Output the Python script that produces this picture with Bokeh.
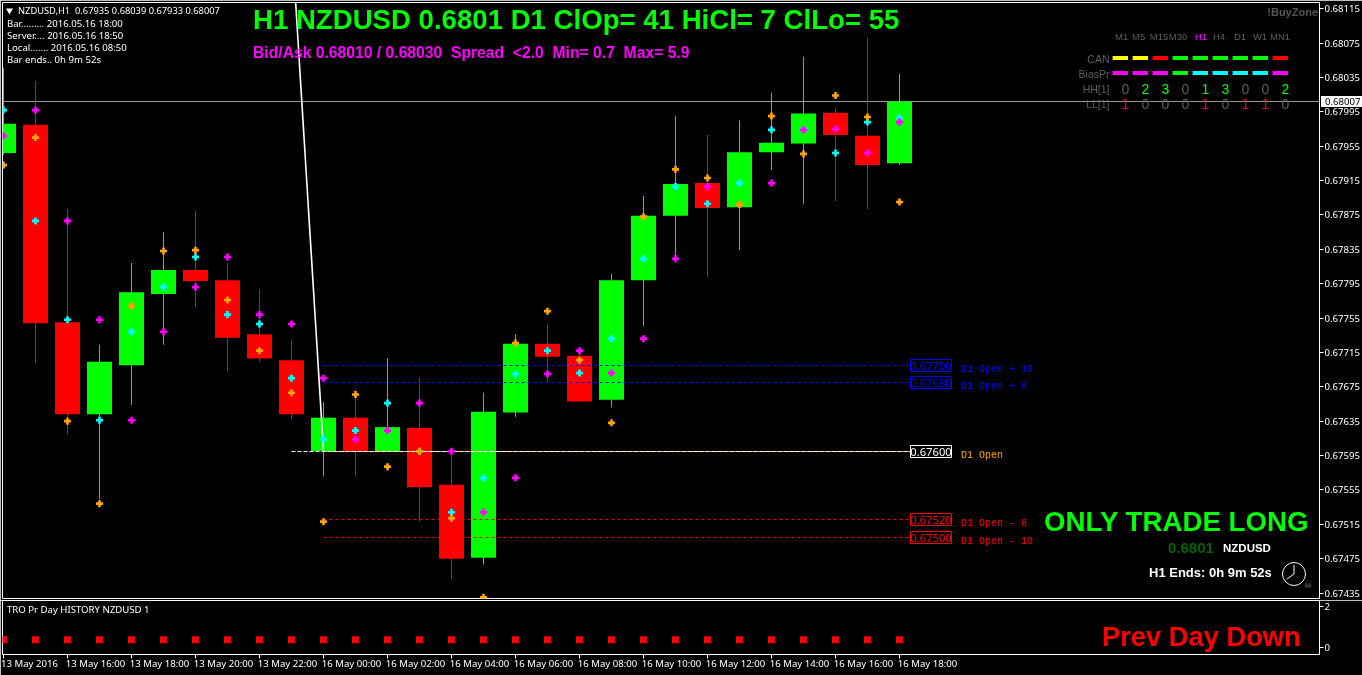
from bokeh.plotting import figure
from bokeh.layouts import column
from bokeh.models import Range1d, FixedTicker, PrintfTickFormatter, LinearAxis, Div
from bokeh.core.properties import value
from bokeh.embed import file_html
from bokeh.resources import INLINE
from math import floor

bar_open = [0.67947,0.67980,0.67750,0.67643,0.67700,0.67783,0.67811,0.67799,0.67736,0.67706,0.67600,0.67639,0.67600,0.67627,0.67561,0.67476,0.67645,0.67725,0.67711,0.67660,0.67799,0.67874,0.67912,0.67884,0.67948,0.67958,0.67994,0.67967,0.67935]
bar_high = [0.68046,0.68031,0.67882,0.67724,0.67819,0.67855,0.67880,0.67819,0.67788,0.67729,0.67657,0.67672,0.67708,0.67685,0.67600,0.67668,0.67736,0.67748,0.67721,0.67806,0.67897,0.67990,0.67968,0.67985,0.68017,0.68059,0.67999,0.68081,0.68039]
bar_low = [0.67945,0.67703,0.67620,0.67544,0.67654,0.67724,0.67768,0.67693,0.67704,0.67638,0.67571,0.67571,0.67600,0.67518,0.67451,0.67468,0.67640,0.67681,0.67658,0.67651,0.67746,0.67824,0.67803,0.67834,0.67927,0.67888,0.67891,0.67882,0.67933]
bar_close = [0.67981,0.67749,0.67643,0.67704,0.67785,0.67811,0.67798,0.67732,0.67708,0.67643,0.67639,0.67600,0.67628,0.67558,0.67475,0.67646,0.67725,0.67710,0.67658,0.67799,0.67874,0.67911,0.67883,0.67948,0.67959,0.67993,0.67968,0.67933,0.68007]
cyan_marks = [0.67997,0.67868,0.67753,0.67636,0.67739,0.67791,0.67826,0.67759,0.67748,0.67685,0.67614,0.67624,0.67656,0.67600,0.67529,0.67569,0.67690,0.67717,0.67691,0.67731,0.67824,0.67908,0.67888,0.67912,0.67974,0.67974,0.67947,0.67983,0.67988]
magenta_marks = [0.67967,0.67997,0.67868,0.67753,0.67636,0.67739,0.67791,0.67826,0.67759,0.67748,0.67685,0.67614,0.67624,0.67656,0.67600,0.67529,0.67569,0.67690,0.67717,0.67691,0.67731,0.67824,0.67908,0.67887,0.67912,0.67974,0.67975,0.67947,0.67983]
orange_marks = [0.67933,0.67965,0.67635,0.67539,0.67769,0.67833,0.67834,0.67776,0.67717,0.67668,0.67518,0.67666,0.67582,0.67600,0.67522,0.67430,0.67726,0.67763,0.67706,0.67633,0.67873,0.67928,0.67918,0.67887,0.67990,0.67946,0.68014,0.67989,0.67890]
sub_values = [0.4] * 29
price_ticks = [0.68115,0.68075,0.68035,0.67995,0.67955,0.67915,0.67875,0.67835,0.67795,0.67755,0.67715,0.67675,0.67635,0.67595,0.67555,0.67515,0.67475,0.67435]
time_labels = ["13 May 2016","13 May 16:00","13 May 18:00","13 May 20:00","13 May 22:00","16 May 00:00","16 May 02:00","16 May 04:00","16 May 06:00","16 May 08:00","16 May 10:00","16 May 12:00","16 May 14:00","16 May 16:00","16 May 18:00"]
level_prices = [0.67700,0.67680,0.67600,0.67520,0.67500]
level_colors = ["#0000ff","#0000ff","#ffffff","#ff0000","#ff0000"]
level_names = ["D1 Open + 10","D1 Open + 8","D1 Open","D1 Open - 8","D1 Open - 10"]
level_name_colors = ["#0000ff","#0000ff","#ffa500","#ff0000","#ff0000"]
current_price = 0.68007
tf_names = ["M1","M5","M15","M30","H1","H4","D1","W1","MN1"]
can_colors = ["#ffff00","#ffff00","#ff0000","#00ff00","#00ff00","#00ff00","#00ff00","#00ff00","#ff0000"]
bias_colors = ["#ff00ff","#ff00ff","#ff00ff","#00ff00","#00ffff","#00ffff","#00ffff","#00ffff","#ff00ff"]
hh_values = [0,2,3,0,1,3,0,0,2]
ll_values = [1,0,0,0,1,0,1,1,0]

W, MAIN_H, SUB_H = 1362, 600, 75
GREEN, RED = "#00ff00", "#ff0000"
SANS, MONO = "Liberation Sans", "Liberation Mono"
UI = "Noto Sans"
Y_TOP, Y_BOT = 0.681222, 0.674286

idx = list(range(len(bar_open)))
x_range = Range1d(-1 / 32, (1319 - 3) / 32)
up = [c >= o for o, c in zip(bar_open, bar_close)]
colors = [GREEN if u else RED for u in up]


def style_axis(a):
    a.axis_line_color = None
    a.major_tick_line_color = "white"
    a.major_tick_in = 0
    a.major_tick_out = 4
    a.minor_tick_line_color = None
    a.major_label_text_color = "white"
    a.major_label_text_font = UI
    a.major_label_text_font_size = "9.6px"
    a.major_label_standoff = 1


p = figure(width=W, height=MAIN_H, x_range=x_range, y_range=Range1d(Y_BOT, Y_TOP),
           output_backend="svg", toolbar_location=None, background_fill_color="black",
           border_fill_color="black", min_border_left=2, min_border_right=43, min_border_top=2,
           min_border_bottom=2, outline_line_color="white", outline_line_width=1,
           x_axis_location=None, y_axis_location="right")
p.grid.visible = False
p.extra_x_ranges["px"] = Range1d(2.5, 1319.5)
p.extra_y_ranges["px"] = Range1d(598.5, 2.5)

ax = p.yaxis[0]
ax.ticker = FixedTicker(ticks=price_ticks)
ax.formatter = PrintfTickFormatter(format="%.5f")
style_axis(ax)


def px_text(fig, x, y, s, size, color, font=SANS, style="normal", align="left"):
    return fig.text(x=[x], y=[y], text=[s], text_font=value(font), text_font_size=value(f"{size}px"),
                    text_font_style=style, text_color=color, text_align=align, text_baseline="middle",
                    x_range_name="px", y_range_name="px")


def row_of(price):
    return floor(2.5 + (Y_TOP - price) / (Y_TOP - Y_BOT) * 596) + 0.5


p.line([x_range.start, x_range.end], [current_price, current_price], line_color="#9a9a9a", line_width=1)
p.segment(idx, bar_high, idx, bar_low, line_color=colors, line_width=1)
p.vbar(x=idx, width=25 / 32, top=[max(a, b) for a, b in zip(bar_open, bar_close)],
       bottom=[min(a, b) for a, b in zip(bar_open, bar_close)], fill_color=colors, line_color=None)

p.line([323.5, 910.5], [row_of(level_prices[2])] * 2, line_color="#ffa500", line_width=1,
       x_range_name="px", y_range_name="px")
for price, col in zip(level_prices, level_colors):
    is_open = col == "#ffffff"
    p.line([291.5 if is_open else 323.5, 910.5], [row_of(price)] * 2, line_color=col, line_width=1,
           line_dash="4 2" if is_open else "3 3", x_range_name="px", y_range_name="px")

p.line([(295.6 - 3.5) / 32, 10], [0.68123, level_prices[2]], line_color="white", line_width=1.6)

p.scatter(idx, cyan_marks, marker="plus", size=7, fill_color="#00ffff", line_color=None)
p.scatter(idx, magenta_marks, marker="plus", size=7, fill_color="#ff00ff", line_color=None)
p.scatter(idx, orange_marks, marker="plus", size=7, fill_color="#ffa500", line_color=None)

for price, col, name, ncol in zip(level_prices, level_colors, level_names, level_name_colors):
    sy = row_of(price)
    p.quad(left=[910.5], right=[951.5], top=[sy - 6], bottom=[sy + 6], fill_color="black", line_color=col,
           x_range_name="px", y_range_name="px")
    px_text(p, 931, sy + 0.5, f"{price:.5f}", 11.2, col, UI, align="center")
    px_text(p, 961, sy + 4, name, 10, ncol, MONO)

p.scatter([9.5], [10.5], marker="inverted_triangle", size=7, fill_color="white", line_color=None,
          x_range_name="px", y_range_name="px")
px_text(p, 18, 10.5, "NZDUSD,H1\u00a0\u00a00.67935 0.68039 0.67933 0.68007", 9.3, "white", UI)
px_text(p, 7, 23.5, "Bar......... 2016.05.16 18:00", 9.6, "white", UI)
px_text(p, 7, 35.5, "Server.... 2016.05.16 18:50", 9.6, "white", UI)
px_text(p, 7, 47.5, "Local....... 2016.05.16 08:50", 9.6, "white", UI)
px_text(p, 7, 59.5, "Bar ends.. 0h 9m 52s", 9.6, "white", UI)

px_text(p, 253, 19.5, "H1 NZDUSD 0.6801 D1 ClOp= 41 HiCl= 7 ClLo= 55", 27.6, GREEN, SANS, "bold")
px_text(p, 253, 52.5, "Bid/Ask 0.68010 / 0.68030\u00a0\u00a0Spread\u00a0\u00a0<2.0\u00a0\u00a0Min= 0.7\u00a0\u00a0Max= 5.9", 15.7, "#ff00ff", SANS, "bold")
px_text(p, 1318, 11.5, "!BuyZone", 11, "#555555", SANS, "bold", "right")

GRAY = "#5f5f5f"
header_x = [1121.7, 1138.7, 1159, 1178, 1201, 1219, 1240, 1260, 1280]
for i, name in enumerate(tf_names):
    px_text(p, header_x[i], 36.5, name, 9.5, "#ff00ff" if name == "H1" else GRAY, SANS, align="center")
for row_y, row_colors in ((58, can_colors), (73, bias_colors)):
    lefts = [1112.6 + 20 * i for i in range(9)]
    p.quad(left=lefts, right=[v + 15.4 for v in lefts], top=[row_y - 2] * 9, bottom=[row_y + 2] * 9,
           fill_color=row_colors, line_color=None, x_range_name="px", y_range_name="px")
for i in range(9):
    v = hh_values[i]
    px_text(p, 1125.5 + 20 * i, 88.5, str(v), 14, GREEN if v else GRAY, SANS, align="center")
    v = ll_values[i]
    px_text(p, 1125.5 + 20 * i, 103.5, str(v), 14, RED if v else GRAY, SANS, align="center")
for label, ly in (("CAN", 58.5), ("BiasPr", 73.5), ("HH[1]", 88.5), ("LL[1]", 103.5)):
    px_text(p, 1109.5, ly, label, 10.5, GRAY, SANS, align="right")

px_text(p, 1044, 521.5, "ONLY TRADE LONG", 27.7, GREEN, SANS, "bold")
px_text(p, 1168, 547.5, "0.6801", 15, "#006400", SANS, "bold")
px_text(p, 1223, 547.5, "NZDUSD", 11.5, "white", SANS, "bold")
px_text(p, 1149, 572.5, "H1 Ends: 0h 9m 52s", 13, "white", SANS, "bold")
p.scatter([1294], [574], marker="circle", size=23, fill_color=None, line_color="white", line_width=1,
          x_range_name="px", y_range_name="px")
p.segment([1294, 1294], [574, 574], [1294, 1287], [565, 579], line_color="white", line_width=1,
          x_range_name="px", y_range_name="px")
px_text(p, 1308, 584, "\u2620", 10, "#777777", "DejaVu Sans", align="center")

q = figure(width=W, height=SUB_H, x_range=x_range, y_range=Range1d(-0.317, 2.293), output_backend="svg",
           toolbar_location=None, background_fill_color="black", border_fill_color="black",
           min_border_left=2, min_border_right=43, min_border_top=0, min_border_bottom=21,
           outline_line_color="white", outline_line_width=1, y_axis_location="right")
q.grid.visible = False
q.extra_x_ranges["px"] = Range1d(2.5, 1319.5)
q.extra_y_ranges["px"] = Range1d(654.5, 600.5)
ay = q.yaxis[0]
ay.ticker = FixedTicker(ticks=[0, 2])
style_axis(ay)

tick_idx = list(range(0, 30, 2))
axx = q.xaxis[0]
axx.ticker = FixedTicker(ticks=tick_idx)
axx.major_label_overrides = {i: "" for i in tick_idx}
style_axis(axx)
axx.major_label_standoff = 0
label_pos = [i + (0.8125 if i == 0 else 0.875) for i in tick_idx]
axl = LinearAxis(ticker=FixedTicker(ticks=label_pos), major_label_overrides=dict(zip(label_pos, time_labels)))
style_axis(axl)
axl.major_tick_line_color = None
axl.major_tick_out = 0
axl.major_label_standoff = -2
q.add_layout(axl, "below")

q.scatter(idx, sub_values, marker="square", size=7, fill_color=RED, line_color=None)
px_text(q, 7, 609.5, "TRO Pr Day HISTORY NZDUSD 1", 9.6, "white", UI)
px_text(q, 1102, 636.5, "Prev Day Down", 27.3, RED, SANS, "bold")

price_tag = Div(text=f"{current_price:.5f}", width=41, height=11, margin=0,
                styles={"position": "fixed", "left": "1321px", "top": "96px", "background-color": "white",
                        "color": "black", "font-family": "Noto Sans", "font-size": "9.6px",
                        "line-height": "11px", "padding-left": "4px", "box-sizing": "border-box"})

page = column(p, q, price_tag, spacing=0, styles={"position": "fixed", "left": "0px", "top": "0px"})
open("out.html", "w").write(file_html(page, INLINE))
